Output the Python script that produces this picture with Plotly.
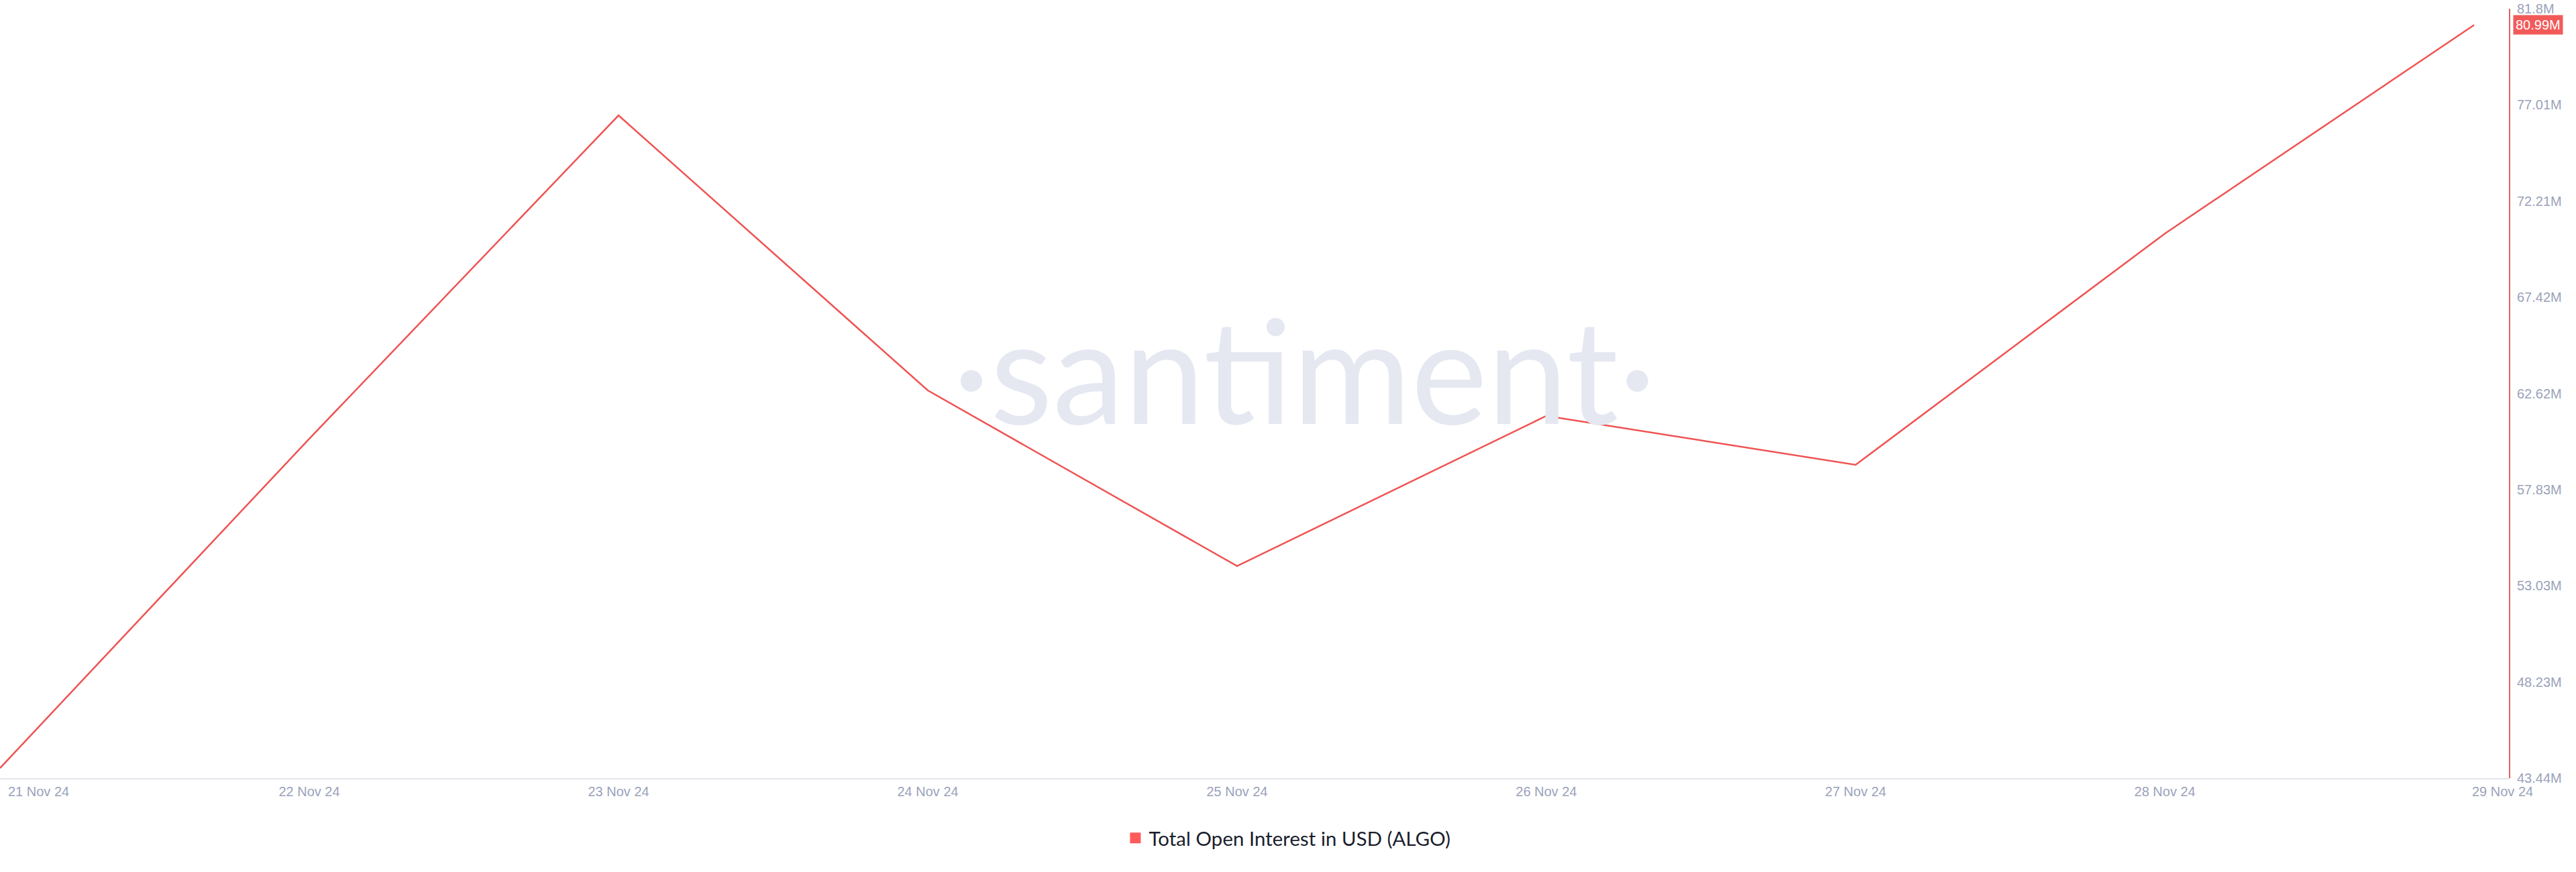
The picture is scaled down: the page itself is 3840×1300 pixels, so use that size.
import plotly.graph_objects as go

dates = ["2024-11-21", "2024-11-22", "2024-11-23", "2024-11-24", "2024-11-25",
         "2024-11-26", "2024-11-27", "2024-11-28", "2024-11-29"]
open_interest = [43.94e6, 60.36e6, 76.48e6, 62.77e6, 54.01e6, 61.50e6, 59.06e6, 70.59e6, 80.99e6]
x_tick_labels = ["21 Nov 24", "22 Nov 24", "23 Nov 24", "24 Nov 24", "25 Nov 24",
                 "26 Nov 24", "27 Nov 24", "28 Nov 24", "29 Nov 24"]
y_tick_vals = [43.44e6, 48.235e6, 53.03e6, 57.825e6, 62.62e6, 67.415e6, 72.21e6, 77.005e6, 81.8e6]
y_tick_labels = ["43.44M", "48.23M", "53.03M", "57.83M", "62.62M", "67.42M", "72.21M", "77.01M", "81.8M"]
series_name = "Total Open Interest in USD (ALGO)"
last_label = "80.99M"

LINE = "#ef5353"
TICK = "#9aa2ba"
TICKFONT = "Liberation Sans, Arial, sans-serif"

fig = go.Figure()
fig.add_trace(go.Scatter(x=dates, y=open_interest, mode="lines",
                         line=dict(color=LINE, width=2.5), showlegend=False,
                         hoverinfo="skip"))
fig.add_trace(go.Scatter(x=[None], y=[None], mode="markers", name=series_name,
                         marker=dict(symbol="square", size=16, color="#ff5b5b"),
                         showlegend=True))

fig.update_layout(
    width=3840, height=1300,
    margin=dict(l=0, r=100, t=13, b=140),
    paper_bgcolor="white", plot_bgcolor="white",
    showlegend=True,
    legend=dict(orientation="h", x=1920 / 3740, xanchor="center",
                y=-0.078, yanchor="middle",
                font=dict(family="Lato, Open Sans, sans-serif", size=29.5, color="#1b1e2d"),
                itemwidth=30),
    xaxis=dict(
        type="date",
        range=["2024-11-21 00:00", "2024-11-29 02:42"],
        tickvals=dates[1:-1], ticktext=x_tick_labels[1:-1],
        tickfont=dict(family=TICKFONT, size=20, color=TICK),
        showgrid=False, zeroline=False, ticks="",
        showline=True, linecolor="#e3e5ec", linewidth=2,
        ticklabelstandoff=1,
    ),
    yaxis=dict(
        side="right",
        range=[43.44e6, 81.8e6],
        tickvals=y_tick_vals, ticktext=y_tick_labels,
        tickfont=dict(family=TICKFONT, size=20, color=TICK),
        showgrid=False, zeroline=False, ticks="",
        showline=True, linecolor="#dc6464", linewidth=2,
        ticklabelstandoff=6,
    ),
)

# watermark
fig.add_annotation(text="·santiment·", xref="paper", yref="paper",
                   x=1945 / 3740, y=(1160 - 549) / 1147, xanchor="center", yanchor="middle",
                   showarrow=False,
                   font=dict(family="Lato, Open Sans, sans-serif",
                             size=215, color="#e5e8f1"))

# first & last x labels (shifted to stay inside)
fig.add_annotation(text=x_tick_labels[0], x=dates[0], xref="x", y=0, yref="paper",
                   xanchor="left", yanchor="middle", xshift=10, yshift=-20,
                   showarrow=False, font=dict(family=TICKFONT, size=20, color=TICK))
fig.add_annotation(text=x_tick_labels[-1], x=dates[-1], xref="x", y=0, yref="paper",
                   xanchor="center", yanchor="middle", xshift=42, yshift=-20,
                   showarrow=False, font=dict(family=TICKFONT, size=20, color=TICK))

# last value badge
fig.add_annotation(text=last_label, x=1, xref="paper", y=open_interest[-1], yref="y",
                   xanchor="left", yanchor="middle", xshift=6, showarrow=False,
                   bgcolor="#f25a5a", borderpad=3,
                   font=dict(family=TICKFONT, size=20, color="white"))

fig.write_html("out.html", config={"displayModeBar": False},
               post_script="document.body.style.margin='0';")
